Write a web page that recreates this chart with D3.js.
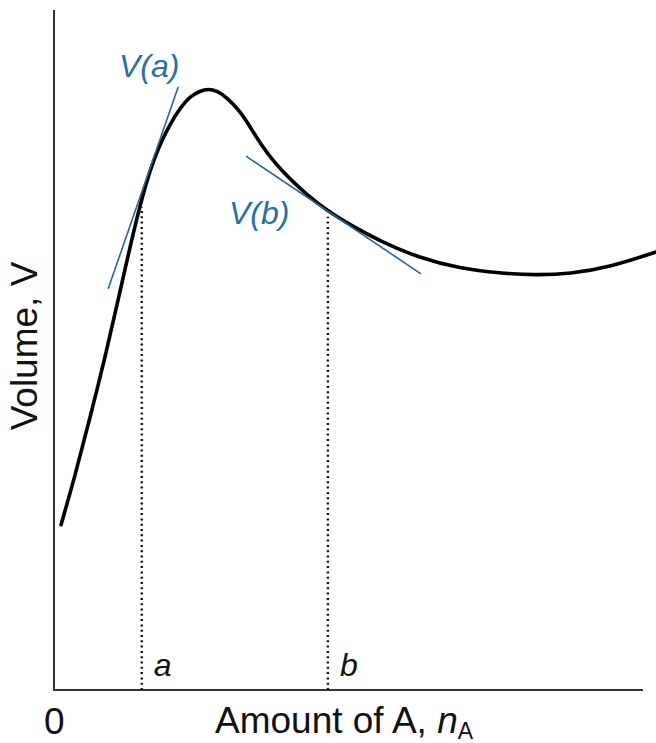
<!DOCTYPE html>
<html>
<head>
<meta charset="utf-8">
<script src="https://cdn.jsdelivr.net/npm/d3@7"></script>
<style>
  html, body { margin: 0; padding: 0; background: #fff; }
  svg { display: block; }
  text { font-family: "Liberation Sans", Arial, Helvetica, sans-serif; }
</style>
</head>
<body>
<svg id="chart" width="656" height="743"></svg>
<script>
// Curve: amount of A (x, 0-100 along axis) vs volume V (0-100 along axis)
const nA = [1.2, 3.6, 6.1, 8.7, 10.9, 12.6, 14.6, 16.3, 18.0, 19.7, 21.4, 23.1, 24.8, 26.2, 27.7, 29.4, 31.6, 33.3, 35.0, 37.2, 40.1, 43.0, 46.5, 50.3, 55.4, 62.1, 68.9, 75.7, 81.7, 87.6, 94.4, 102.2];
const volume = [24.3, 31.6, 40.0, 49.0, 57.4, 64.0, 71.3, 76.5, 80.3, 83.2, 85.6, 87.3, 88.1, 88.4, 88.1, 87.1, 85.1, 82.8, 80.4, 77.8, 75.1, 72.8, 70.4, 68.4, 66.0, 63.5, 62.0, 61.3, 61.0, 61.2, 62.2, 64.4];

// Tangent segments [x0, y0, x1, y1]
const tangentNames = ["V(a)", "V(b)"];
const tangentX0 = [9.2, 32.6];
const tangentY0 = [59.0, 78.5];
const tangentX1 = [21.1, 62.3];
const tangentY1 = [88.7, 61.2];

// Marked amounts a, b (dotted drop lines)
const markNames = ["a", "b"];
const markX = [14.9, 46.5];
const markTop = [71.0, 69.6];

const tickLabels = ["0"];

const svg = d3.select("#chart");
const x = d3.scaleLinear().domain([0, 100]).range([54, 643]);
const y = d3.scaleLinear().domain([0, 100]).range([690, 10]);

const blue = "#2a6fa6";
const lineBlue = "#2b6592";

// axes (plain lines, no ticks)
svg.append("line").attr("x1", x(0)).attr("x2", x(0)).attr("y1", y(0)).attr("y2", y(100))
  .attr("stroke", "#333").attr("stroke-width", 2);
svg.append("line").attr("x1", x(0) - 1).attr("x2", x(100)).attr("y1", y(0)).attr("y2", y(0))
  .attr("stroke", "#333").attr("stroke-width", 2.2);

// dotted drop lines
svg.selectAll("line.drop").data(markX).enter().append("line").attr("class", "drop")
  .attr("x1", d => x(d)).attr("x2", d => x(d))
  .attr("y1", y(0)).attr("y2", (d, i) => y(markTop[i]))
  .attr("stroke", "#111").attr("stroke-width", 2.4)
  .attr("stroke-dasharray", "2 3.3");

// curve
const pts = nA.map((d, i) => [d, volume[i]]);
svg.append("path").datum(pts)
  .attr("d", d3.line().x(d => x(d[0])).y(d => y(d[1])).curve(d3.curveBasis))
  .attr("fill", "none").attr("stroke", "#000").attr("stroke-width", 3.6)
  .attr("stroke-linecap", "round");

// tangents
svg.selectAll("line.tan").data(tangentNames).enter().append("line").attr("class", "tan")
  .attr("x1", (d, i) => x(tangentX0[i])).attr("y1", (d, i) => y(tangentY0[i]))
  .attr("x2", (d, i) => x(tangentX1[i])).attr("y2", (d, i) => y(tangentY1[i]))
  .attr("stroke", lineBlue).attr("stroke-width", 1.6);

// tangent labels
function vlabel(txt, px, py) {
  svg.append("text").attr("x", px).attr("y", py)
    .attr("font-size", 32).attr("font-style", "italic").attr("fill", blue)
    .text(txt);
}
vlabel(tangentNames[0], 119, 77);
vlabel(tangentNames[1], 229, 224);

// mark labels a, b
svg.selectAll("text.mark").data(markNames).enter().append("text").attr("class", "mark")
  .attr("x", (d, i) => x(markX[i]) + 12).attr("y", 676)
  .attr("font-size", 32).attr("font-style", "italic").attr("fill", "#111")
  .text(d => d);

// origin tick label
svg.append("text").attr("x", 44).attr("y", 734).attr("font-size", 37).attr("fill", "#111")
  .text(tickLabels[0]);

// x-axis title
const xt = svg.append("text").attr("x", 215).attr("y", 733).attr("font-size", 37).attr("fill", "#111");
xt.append("tspan").text("Amount of A, ");
xt.append("tspan").attr("font-style", "italic").text("n");
xt.append("tspan").attr("font-size", 23).attr("dy", 6).text("A");

// y-axis title
svg.append("text").attr("transform", "translate(37,346) rotate(-90)")
  .attr("text-anchor", "middle").attr("font-size", 37).attr("fill", "#111")
  .text("Volume, V");
</script>
</body>
</html>
